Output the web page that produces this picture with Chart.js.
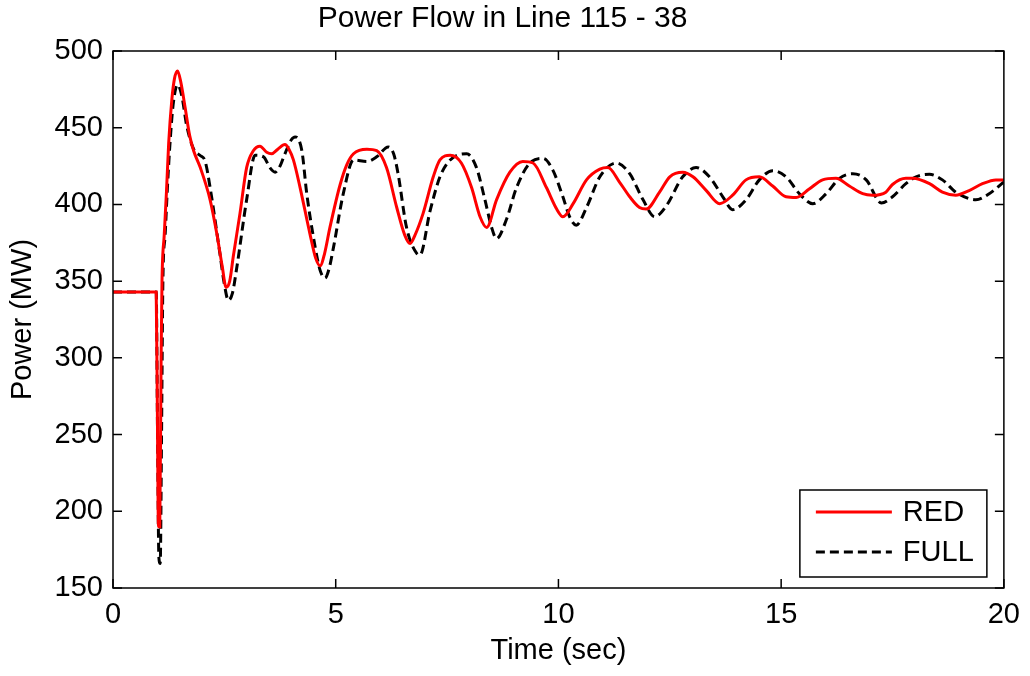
<!DOCTYPE html>
<html>
<head>
<meta charset="utf-8">
<title>Power Flow in Line 115 - 38</title>
<script src="https://cdn.jsdelivr.net/npm/chart.js@4.4.1/dist/chart.umd.min.js"></script>
<style>
    html, body { margin: 0; padding: 0; background: #fff; }
</style>
</head>
<body>
<canvas id="chart" width="1030" height="676"></canvas>
<script>
// Power flow, line 115 - 38 (reduced vs full model)

const redTime = [0, 0.97, 1.0, 1.02, 1.05, 1.08, 1.1, 1.15, 1.2, 1.25, 1.32, 1.38, 1.45, 1.52, 1.62, 1.72, 1.81, 1.96,
    2.18, 2.33, 2.45, 2.54, 2.62, 2.7, 2.85, 3.0, 3.15, 3.3, 3.45, 3.56, 3.7, 3.86, 3.95, 4.05, 4.2, 4.42, 4.55, 4.65,
    4.75, 4.87, 5.1, 5.25, 5.4, 5.7, 5.92, 6.14, 6.37, 6.55, 6.67, 6.78, 6.96, 7.19, 7.34, 7.57, 7.82, 8.05, 8.24, 8.39,
    8.61, 8.91, 9.2, 9.43, 9.73, 9.96, 10.1, 10.33, 10.63, 10.93, 11.11, 11.37, 11.6, 11.82, 11.97, 12.27, 12.5, 12.79,
    13.02, 13.32, 13.62, 13.91, 14.21, 14.51, 14.81, 15.11, 15.34, 15.63, 15.93, 16.23, 16.53, 16.83, 17.05, 17.35,
    17.5, 17.8, 17.95, 18.33, 18.62, 18.92, 19.22, 19.52, 19.82, 20];
const redPower = [343, 343, 250, 190, 190, 300, 350, 380, 408, 440, 468, 482, 487, 480, 463, 445, 435, 424,
    403, 381, 360, 346, 350, 366, 394, 424, 435, 438, 434, 433, 436, 439, 436, 429, 411, 381, 365, 360,
    368, 385, 413, 426, 433, 436, 435, 424, 398, 380, 374.5, 380, 394, 418, 429, 432, 427, 411, 392, 385,
    403, 421, 428, 427, 411, 397, 392, 400.5, 416, 423, 424, 414.6, 405, 398, 397, 408, 418, 421,
    418, 409, 400.5, 406, 416, 418, 412, 405, 404.5, 410, 416, 417, 412, 407, 406, 408,
    413, 417, 417, 413.5, 408, 406, 409, 413.5, 416, 416];

const fullTime = [0, 0.97, 1.0, 1.03, 1.06, 1.09, 1.12, 1.17, 1.22, 1.28, 1.35, 1.45, 1.55, 1.65, 1.81, 1.95, 2.07,
    2.18, 2.4, 2.5, 2.59, 2.68, 2.78, 3.0, 3.19, 3.38, 3.52, 3.64, 3.75, 3.86, 4.0, 4.09, 4.24, 4.35, 4.54, 4.65, 4.76,
    4.85, 4.95, 5.17, 5.4, 5.7, 5.92, 6.18, 6.3, 6.4, 6.59, 6.82, 6.89, 7.12, 7.34, 7.57, 7.94, 8.16, 8.35, 8.5, 8.61,
    8.83, 9.06, 9.36, 9.66, 9.88, 10.1, 10.25, 10.4, 10.63, 10.93, 11.3, 11.6, 11.9, 12.16, 12.42, 12.79, 13.09, 13.39,
    13.69, 13.91, 14.21, 14.51, 14.81, 15.11, 15.41, 15.71, 16.01, 16.31, 16.61, 16.91, 17.25, 17.5, 17.8, 18.03,
    18.33, 18.62, 18.92, 19.22, 19.37, 19.67, 20];
const fullPower = [343, 343, 250, 170, 166, 250, 350, 380, 410, 440, 465, 478, 470, 452, 436, 432, 428,
    411, 368, 348, 337.5, 342, 359, 403, 432, 431, 424, 421, 425, 433, 442, 444, 435, 407, 372, 357, 352,
    358, 372, 407, 429, 428, 431, 437.5, 433, 420, 385, 368, 367, 396, 418, 429, 433, 424, 403, 385, 377.7,
    390, 411, 427, 430, 422, 405, 392, 386.5, 398, 418, 427, 420, 403, 392, 399, 418, 424, 418,
    405, 396.6, 403, 416, 422, 418, 407, 400.5, 407, 417, 420, 416, 401, 405, 413.5, 418,
    419.6, 416, 408, 403.8, 403, 407, 414.6];

const xTickValues = [0, 5, 10, 15, 20];
const yTickValues = [150, 200, 250, 300, 350, 400, 450, 500];

const FONT = '"Liberation Sans", Arial, sans-serif';

function toPoints(times, values) {
    return times.map((t, i) => ({ x: t, y: values[i] }));
}

// caixa do eixo + ticks para dentro (estilo MATLAB)
const axesBox = {
    id: 'axesBox',
    afterDatasetsDraw(chart) {
        const { ctx, chartArea: a, scales } = chart;
        const len = 9;
        ctx.save();
        ctx.strokeStyle = '#000';
        ctx.lineWidth = 1.5;
        ctx.strokeRect(a.left, a.top, a.right - a.left, a.bottom - a.top);
        ctx.beginPath();
        xTickValues.forEach(v => {
            const px = scales.x.getPixelForValue(v);
            ctx.moveTo(px, a.bottom); ctx.lineTo(px, a.bottom - len);
            ctx.moveTo(px, a.top); ctx.lineTo(px, a.top + len);
        });
        yTickValues.forEach(v => {
            const py = scales.y.getPixelForValue(v);
            ctx.moveTo(a.left, py); ctx.lineTo(a.left + len, py);
            ctx.moveTo(a.right, py); ctx.lineTo(a.right - len, py);
        });
        ctx.stroke();
        ctx.restore();
    }
};

// legenda dentro da area, canto inferior direito
const boxLegend = {
    id: 'boxLegend',
    afterDraw(chart) {
        const { ctx, chartArea: a } = chart;
        const w = 187, h = 87;
        const x0 = a.right - 17 - w, y0 = a.bottom - 11 - h;
        ctx.save();
        ctx.fillStyle = '#fff';
        ctx.fillRect(x0, y0, w, h);
        ctx.strokeStyle = '#000';
        ctx.lineWidth = 1.5;
        ctx.strokeRect(x0, y0, w, h);
        ctx.font = '29px ' + FONT;
        ctx.textBaseline = 'middle';
        ctx.textAlign = 'left';
        chart.data.datasets.forEach((ds, i) => {
            const y = y0 + 22 + i * 40;
            ctx.beginPath();
            ctx.setLineDash(ds.borderDash || []);
            ctx.strokeStyle = ds.borderColor;
            ctx.lineWidth = ds.borderWidth;
            ctx.moveTo(x0 + 16, y);
            ctx.lineTo(x0 + 92, y);
            ctx.stroke();
            ctx.setLineDash([]);
            ctx.fillStyle = '#000';
            ctx.fillText(ds.label, x0 + 103, y + 1);
        });
        ctx.restore();
    }
};

const chart = new Chart(document.getElementById('chart'), {
    type: 'line',
    data: {
        datasets: [
            {
                label: 'RED',
                data: toPoints(redTime, redPower),
                borderColor: '#ff0000',
                borderWidth: 3,
                pointRadius: 0,
                cubicInterpolationMode: 'monotone'
            },
            {
                label: 'FULL',
                data: toPoints(fullTime, fullPower),
                borderColor: '#000000',
                borderWidth: 3,
                borderDash: [9, 5],
                pointRadius: 0,
                cubicInterpolationMode: 'monotone'
            }
        ]
    },
    options: {
        responsive: false,
        animation: false,
        layout: { padding: { left: 0, right: 25, top: 0, bottom: 0 } },
        plugins: {
            legend: { display: false },
            tooltip: { enabled: false },
            title: {
                display: true,
                text: 'Power Flow in Line 115 - 38',
                color: '#000',
                font: { family: FONT, size: 30, weight: 'normal' },
                padding: { top: 1, bottom: 14 }
            }
        },
        scales: {
            x: {
                type: 'linear',
                min: 0,
                max: 20,
                afterBuildTicks: s => { s.ticks = xTickValues.map(v => ({ value: v })); },
                afterFit: s => { s.height = 88; },
                grid: { display: false, drawTicks: false },
                border: { display: false },
                ticks: {
                    color: '#000',
                    padding: 10,
                    maxRotation: 0,
                    font: { family: FONT, size: 29 }
                },
                title: {
                    display: true,
                    text: 'Time (sec)',
                    color: '#000',
                    font: { family: FONT, size: 29 },
                    padding: { top: 0, bottom: 8 }
                }
            },
            y: {
                type: 'linear',
                min: 150,
                max: 500,
                afterBuildTicks: s => { s.ticks = yTickValues.map(v => ({ value: v })); },
                afterFit: s => { s.width = 113; },
                grid: { display: false, drawTicks: false },
                border: { display: false },
                ticks: {
                    color: '#000',
                    padding: 10,
                    font: { family: FONT, size: 29 }
                },
                title: {
                    display: true,
                    text: 'Power (MW)',
                    color: '#000',
                    font: { family: FONT, size: 29 },
                    padding: { top: 6, bottom: 0 }
                }
            }
        }
    },
    plugins: [axesBox, boxLegend]
});
</script>
</body>
</html>
